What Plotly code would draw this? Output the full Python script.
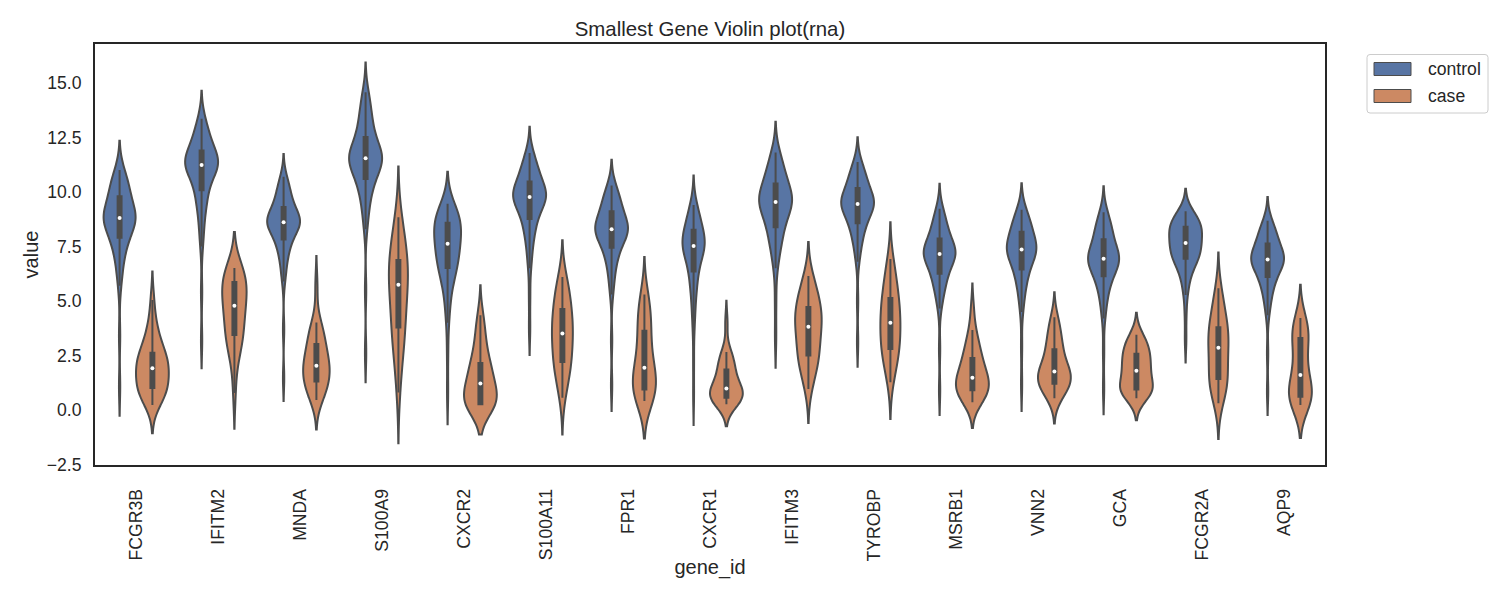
import numpy as np
import plotly.graph_objects as go

# ---------------- data ----------------
genes = ["FCGR3B", "IFITM2", "MNDA", "S100A9", "CXCR2", "S100A11", "FPR1", "CXCR1",
         "IFITM3", "TYROBP", "MSRB1", "VNN2", "GCA", "FCGR2A", "AQP9"]
groups = ["control", "case"]
y_tick_values = [-2.5, 0.0, 2.5, 5.0, 7.5, 10.0, 12.5, 15.0]
y_tick_labels = ["\u22122.5", "0.0", "2.5", "5.0", "7.5", "10.0", "12.5", "15.0"]

control_values = [
    [1.08, 3.40, 5.70, 6.14, 6.48, 6.79, 7.05, 7.27, 7.44, 7.60, 7.73, 7.81, 7.88, 7.92, 8.14, 8.32, 8.45, 8.56,
     8.62, 8.65, 8.68, 8.71, 8.73, 8.75, 8.77, 8.79, 8.83, 8.85, 8.87, 8.89, 8.91, 8.94, 8.97, 9.00,
     9.16, 9.31, 9.45, 9.60, 9.79, 9.83, 9.87, 9.95, 10.03, 10.11, 10.21, 10.31, 10.42, 10.53, 10.65, 10.77, 10.89, 11.01],
    [3.19, 5.40, 7.50, 8.01, 8.43, 8.79, 9.09, 9.35, 9.56, 9.74, 9.89, 9.99, 10.07, 10.11, 10.39, 10.62, 10.79, 10.93,
     11.07, 11.10, 11.12, 11.15, 11.18, 11.20, 11.21, 11.23, 11.27, 11.29, 11.30, 11.32, 11.35, 11.38, 11.40, 11.43,
     11.48, 11.58, 11.67, 11.77, 11.89, 11.93, 11.99, 12.08, 12.18, 12.28, 12.40, 12.52, 12.65, 12.78, 12.93, 13.08, 13.22, 13.37],
    [1.46, 3.70, 5.90, 6.28, 6.58, 6.85, 7.08, 7.27, 7.42, 7.55, 7.67, 7.74, 7.80, 7.84, 8.03, 8.19, 8.30, 8.40,
     8.47, 8.49, 8.52, 8.54, 8.56, 8.58, 8.59, 8.61, 8.63, 8.65, 8.66, 8.68, 8.70, 8.72, 8.75, 8.77,
     8.86, 8.97, 9.07, 9.17, 9.30, 9.34, 9.39, 9.48, 9.57, 9.67, 9.78, 9.89, 10.02, 10.14, 10.28, 10.42, 10.56, 10.70],
    [2.63, 5.50, 8.30, 8.76, 9.12, 9.44, 9.71, 9.94, 10.12, 10.28, 10.42, 10.51, 10.58, 10.62, 10.85, 11.03, 11.17, 11.29,
     11.36, 11.39, 11.42, 11.44, 11.47, 11.49, 11.51, 11.53, 11.57, 11.59, 11.61, 11.63, 11.66, 11.68, 11.71, 11.74,
     11.89, 12.04, 12.18, 12.33, 12.51, 12.55, 12.64, 12.77, 12.91, 13.06, 13.22, 13.39, 13.58, 13.76, 13.97, 14.18, 14.38, 14.59],
    [0.81, 2.60, 4.00, 4.50, 4.90, 5.25, 5.54, 5.79, 5.99, 6.17, 6.32, 6.42, 6.49, 6.53, 6.62, 6.71, 6.80, 6.88,
     6.97, 7.06, 7.15, 7.24, 7.33, 7.41, 7.50, 7.59, 7.67, 7.75, 7.82, 7.90, 7.97, 8.05, 8.12, 8.20,
     8.27, 8.35, 8.42, 8.50, 8.57, 8.61, 8.63, 8.69, 8.75, 8.81, 8.88, 8.95, 9.03, 9.11, 9.20, 9.29, 9.38, 9.47],
    [3.73, 5.20, 6.50, 6.95, 7.31, 7.63, 7.90, 8.12, 8.30, 8.46, 8.59, 8.68, 8.75, 8.79, 9.03, 9.23, 9.37, 9.49,
     9.60, 9.63, 9.65, 9.68, 9.70, 9.72, 9.74, 9.75, 9.79, 9.80, 9.82, 9.84, 9.86, 9.89, 9.91, 9.94,
     10.02, 10.13, 10.23, 10.34, 10.47, 10.51, 10.56, 10.64, 10.73, 10.82, 10.93, 11.03, 11.15, 11.27, 11.40, 11.53, 11.66, 11.79],
    [1.13, 3.20, 5.30, 5.72, 6.06, 6.36, 6.61, 6.83, 7.00, 7.14, 7.27, 7.36, 7.42, 7.46, 7.66, 7.83, 7.95, 8.05,
     8.12, 8.15, 8.17, 8.20, 8.22, 8.24, 8.26, 8.27, 8.31, 8.32, 8.34, 8.36, 8.38, 8.41, 8.43, 8.46,
     8.58, 8.70, 8.82, 8.95, 9.10, 9.14, 9.18, 9.25, 9.34, 9.42, 9.51, 9.61, 9.72, 9.82, 9.94, 10.06, 10.18, 10.30],
    [0.66, 2.20, 3.70, 4.23, 4.65, 5.02, 5.33, 5.59, 5.80, 5.99, 6.15, 6.25, 6.33, 6.37, 6.65, 6.88, 7.06, 7.20,
     7.33, 7.36, 7.39, 7.42, 7.44, 7.46, 7.48, 7.50, 7.54, 7.56, 7.58, 7.60, 7.62, 7.65, 7.68, 7.71,
     7.78, 7.89, 8.00, 8.11, 8.25, 8.29, 8.33, 8.40, 8.48, 8.56, 8.65, 8.74, 8.85, 8.95, 9.07, 9.18, 9.30, 9.41],
    [3.35, 5.00, 6.50, 6.87, 7.17, 7.44, 7.66, 7.85, 8.00, 8.13, 8.24, 8.31, 8.37, 8.41, 8.69, 8.91, 9.08, 9.22,
     9.34, 9.37, 9.40, 9.43, 9.46, 9.48, 9.50, 9.52, 9.56, 9.58, 9.60, 9.62, 9.65, 9.68, 9.71, 9.74,
     9.83, 9.96, 10.09, 10.21, 10.37, 10.41, 10.47, 10.55, 10.65, 10.75, 10.87, 10.98, 11.11, 11.24, 11.39, 11.53, 11.68, 11.82],
    [3.12, 5.00, 6.80, 7.15, 7.43, 7.68, 7.89, 8.06, 8.20, 8.32, 8.43, 8.50, 8.55, 8.59, 8.80, 8.97, 9.10, 9.21,
     9.29, 9.31, 9.34, 9.36, 9.39, 9.40, 9.42, 9.43, 9.47, 9.48, 9.50, 9.51, 9.54, 9.56, 9.59, 9.61,
     9.71, 9.82, 9.92, 10.03, 10.17, 10.21, 10.25, 10.32, 10.41, 10.49, 10.59, 10.68, 10.79, 10.90, 11.02, 11.14, 11.26, 11.38],
    [0.91, 2.80, 4.65, 4.97, 5.22, 5.44, 5.63, 5.79, 5.91, 6.02, 6.12, 6.18, 6.23, 6.27, 6.49, 6.67, 6.80, 6.91,
     7.00, 7.02, 7.05, 7.07, 7.10, 7.11, 7.13, 7.14, 7.18, 7.19, 7.21, 7.22, 7.25, 7.27, 7.30, 7.32,
     7.41, 7.51, 7.62, 7.72, 7.85, 7.89, 7.94, 8.03, 8.12, 8.22, 8.33, 8.44, 8.56, 8.69, 8.83, 8.96, 9.10, 9.24],
    [1.17, 2.90, 4.50, 4.89, 5.19, 5.47, 5.70, 5.89, 6.04, 6.18, 6.29, 6.37, 6.43, 6.47, 6.69, 6.87, 7.00, 7.11,
     7.19, 7.21, 7.24, 7.27, 7.29, 7.31, 7.33, 7.34, 7.38, 7.39, 7.41, 7.43, 7.45, 7.48, 7.51, 7.53,
     7.64, 7.77, 7.89, 8.01, 8.16, 8.20, 8.23, 8.29, 8.36, 8.44, 8.52, 8.60, 8.69, 8.78, 8.88, 8.99, 9.09, 9.19],
    [1.00, 2.70, 4.20, 4.58, 4.89, 5.16, 5.39, 5.58, 5.74, 5.87, 5.99, 6.06, 6.12, 6.16, 6.35, 6.51, 6.62, 6.72,
     6.77, 6.80, 6.82, 6.85, 6.87, 6.89, 6.91, 6.92, 6.96, 6.97, 6.99, 7.01, 7.03, 7.06, 7.08, 7.11,
     7.25, 7.39, 7.52, 7.65, 7.82, 7.86, 7.90, 7.98, 8.07, 8.15, 8.25, 8.35, 8.46, 8.57, 8.70, 8.82, 8.95, 9.07],
    [3.21, 4.40, 5.27, 5.60, 5.86, 6.10, 6.29, 6.46, 6.59, 6.71, 6.80, 6.87, 6.92, 6.96, 7.00, 7.06, 7.11, 7.17,
     7.23, 7.29, 7.34, 7.40, 7.46, 7.52, 7.57, 7.63, 7.69, 7.75, 7.81, 7.87, 7.93, 7.99, 8.06, 8.12,
     8.18, 8.24, 8.30, 8.36, 8.39, 8.43, 8.44, 8.49, 8.54, 8.59, 8.64, 8.70, 8.77, 8.83, 8.90, 8.98, 9.05, 9.12],
    [0.85, 2.60, 4.35, 4.70, 4.97, 5.22, 5.42, 5.60, 5.73, 5.86, 5.96, 6.03, 6.08, 6.12, 6.31, 6.47, 6.58, 6.68,
     6.75, 6.77, 6.79, 6.82, 6.84, 6.85, 6.87, 6.88, 6.92, 6.93, 6.95, 6.96, 6.98, 7.01, 7.03, 7.05,
     7.16, 7.27, 7.37, 7.48, 7.62, 7.66, 7.69, 7.76, 7.83, 7.91, 7.99, 8.08, 8.17, 8.27, 8.37, 8.48, 8.58, 8.69],
]

case_values = [
    [0.23, 0.45, 0.62, 0.75, 0.85, 0.95, 1.00, 1.06, 1.25, 1.45, 1.60, 1.75, 1.87, 1.95, 2.05, 2.15, 2.28, 2.42, 2.55, 2.62, 2.80, 3.05, 3.35, 3.70, 4.08, 5.05],
    [0.78, 2.10, 2.60, 2.95, 3.20, 3.35, 3.44, 3.55, 3.85, 4.15, 4.40, 4.62, 4.74, 4.82, 4.98, 5.15, 5.35, 5.55, 5.80, 5.87, 5.97, 6.08, 6.18, 6.30, 6.42, 6.52],
    [0.46, 0.62, 0.78, 0.92, 1.05, 1.18, 1.30, 1.42, 1.58, 1.72, 1.85, 1.95, 2.01, 2.05, 2.18, 2.32, 2.48, 2.66, 2.95, 3.03, 3.22, 3.42, 3.62, 3.82, 4.01, 5.70],
    [0.80, 1.80, 2.40, 2.90, 3.25, 3.55, 3.78, 3.95, 4.30, 4.70, 5.05, 5.40, 5.70, 5.80, 5.95, 6.10, 6.30, 6.55, 6.82, 6.88, 7.10, 7.40, 7.70, 8.05, 8.40, 8.85],
    [0.25, 0.25, 0.26, 0.26, 0.26, 0.26, 0.26, 0.30, 0.48, 0.66, 0.84, 1.02, 1.16, 1.26, 1.40, 1.55, 1.72, 1.90, 2.10, 2.15, 2.45, 2.75, 3.10, 3.50, 3.92, 4.35],
    [0.56, 1.05, 1.40, 1.70, 1.95, 2.12, 2.20, 2.36, 2.60, 2.85, 3.10, 3.35, 3.48, 3.54, 3.70, 3.88, 4.05, 4.25, 4.55, 4.63, 4.85, 5.10, 5.35, 5.60, 5.85, 6.10],
    [0.41, 0.52, 0.62, 0.72, 0.80, 0.88, 0.94, 1.02, 1.22, 1.42, 1.62, 1.80, 1.90, 1.98, 2.22, 2.50, 2.80, 3.15, 3.58, 3.63, 3.90, 4.20, 4.50, 4.80, 5.05, 5.30],
    [0.26, 0.32, 0.38, 0.44, 0.49, 0.53, 0.56, 0.60, 0.68, 0.76, 0.84, 0.91, 0.96, 1.00, 1.10, 1.24, 1.40, 1.58, 1.80, 1.86, 2.02, 2.20, 2.38, 2.52, 2.66, 4.00],
    [0.96, 1.40, 1.75, 2.05, 2.30, 2.45, 2.50, 2.58, 2.85, 3.15, 3.40, 3.62, 3.78, 3.86, 4.00, 4.15, 4.30, 4.45, 4.66, 4.72, 4.90, 5.10, 5.35, 5.60, 5.85, 6.15],
    [1.27, 1.70, 2.05, 2.35, 2.55, 2.72, 2.80, 2.92, 3.15, 3.40, 3.62, 3.82, 3.96, 4.04, 4.20, 4.40, 4.60, 4.82, 5.08, 5.14, 5.35, 5.60, 5.90, 6.20, 6.55, 6.93],
    [0.35, 0.45, 0.55, 0.64, 0.73, 0.82, 0.90, 0.98, 1.08, 1.18, 1.28, 1.38, 1.45, 1.51, 1.62, 1.76, 1.92, 2.10, 2.33, 2.38, 2.58, 2.80, 3.05, 3.35, 3.67, 4.62],
    [0.53, 0.70, 0.85, 0.98, 1.08, 1.15, 1.20, 1.28, 1.40, 1.50, 1.60, 1.68, 1.74, 1.78, 1.88, 2.00, 2.15, 2.35, 2.70, 2.78, 2.95, 3.15, 3.40, 3.70, 3.98, 4.25],
    [0.53, 0.65, 0.75, 0.82, 0.88, 0.92, 0.94, 0.98, 1.12, 1.28, 1.45, 1.62, 1.76, 1.84, 1.96, 2.08, 2.20, 2.35, 2.52, 2.58, 2.70, 2.85, 3.00, 3.15, 3.30, 3.45],
    [0.31, 0.60, 0.85, 1.05, 1.22, 1.36, 1.42, 1.50, 1.75, 2.00, 2.30, 2.60, 2.80, 2.90, 3.05, 3.20, 3.35, 3.55, 3.75, 3.80, 4.00, 4.25, 4.55, 4.85, 5.20, 5.58],
    [0.23, 0.30, 0.38, 0.45, 0.51, 0.56, 0.60, 0.65, 0.80, 0.98, 1.15, 1.35, 1.55, 1.65, 1.95, 2.30, 2.58, 2.80, 3.22, 3.30, 3.45, 3.60, 3.75, 3.90, 4.05, 4.22],
]

# ---------------- style ----------------
FILL = {"control": "#5875a4", "case": "#cc8963"}
GRAY = "#4c4c4c"
TEXT = "#262626"
DODGE = {"control": -0.2, "case": 0.2}
FONT = "Liberation Sans, Arial, Helvetica, sans-serif"

W, H = 1500, 600
ML, MR, MT, MB = 95, 175, 44, 135
PW, PH = W - ML - MR, H - MT - MB


def px_x(px):
    return (px - ML) / PW


def px_y(py):
    return (H - MB - py) / PH


def silverman(arr):
    q1, q3 = np.percentile(arr, [25, 75])
    return 1.059 * min(arr.std(ddof=1), (q3 - q1) / 1.349) * len(arr) ** (-0.2)


def rounded_rect_path(x0, y0, x1, y1, r):
    """Rounded rectangle in paper coords; corners given in pixels (x0,y0 top-left)."""
    X0, X1 = px_x(x0), px_x(x1)
    Y0, Y1 = px_y(y0), px_y(y1)
    rx, ry = r / PW, r / PH
    return (f"M{X0 + rx},{Y0} L{X1 - rx},{Y0} Q{X1},{Y0} {X1},{Y0 - ry} "
            f"L{X1},{Y1 + ry} Q{X1},{Y1} {X1 - rx},{Y1} "
            f"L{X0 + rx},{Y1} Q{X0},{Y1} {X0},{Y1 + ry} "
            f"L{X0},{Y0 - ry} Q{X0},{Y0} {X0 + rx},{Y0} Z")


fig = go.Figure()
med_x, med_y = [], []
for group in groups:
    series = control_values if group == "control" else case_values
    for i, vals in enumerate(series):
        arr = np.asarray(vals, dtype=float)
        pos = i + DODGE[group]
        fig.add_trace(go.Violin(
            x=[pos] * len(arr), y=arr, name=group, showlegend=False,
            bandwidth=silverman(arr), spanmode="soft",
            scalegroup=genes[i], scalemode="width",
            fillcolor=FILL[group], opacity=1, line=dict(color=GRAY, width=2),
            points=False,
            box=dict(visible=True, width=0.12, fillcolor=GRAY,
                     line=dict(color=GRAY, width=2)),
            meanline=dict(visible=False), hoverinfo="skip",
        ))
        med_x.append(pos)
        med_y.append(float(np.median(arr)))

fig.add_trace(go.Scatter(
    x=med_x, y=med_y, mode="markers", showlegend=False, hoverinfo="skip",
    marker=dict(color="white", size=4, line=dict(width=0)),
))

fig.update_layout(
    width=W, height=H,
    margin=dict(l=ML, r=MR, t=MT, b=MB, autoexpand=False),
    plot_bgcolor="white", paper_bgcolor="white",
    font=dict(family=FONT, color=TEXT, size=17.6),
    violinmode="overlay", violingap=0, violingroupgap=0,
    showlegend=False,
    title=dict(text="Smallest Gene Violin plot(rna)", x=0.5, xref="paper", xanchor="center",
               y=1, yref="paper", yanchor="bottom", pad=dict(b=8),
               font=dict(size=20.4, color=TEXT, family=FONT)),
)

fig.update_xaxes(
    range=[-0.5, len(genes) - 0.5], tickmode="array", tickvals=list(range(len(genes))),
    ticktext=genes, tickangle=-90, showgrid=False, zeroline=False,
    showline=True, mirror=True, linecolor=TEXT, linewidth=2,
    ticks="outside", ticklen=15, tickcolor="rgba(0,0,0,0)",
    tickfont=dict(size=17.6, color=TEXT, family=FONT),
    title=dict(text="gene_id", font=dict(size=20, color=TEXT, family=FONT), standoff=0),
    automargin=False,
)
fig.update_yaxes(
    range=[-2.53, 16.80], tickmode="array", tickvals=y_tick_values, ticktext=y_tick_labels,
    showgrid=False, zeroline=False,
    showline=True, mirror=True, linecolor=TEXT, linewidth=2,
    ticks="outside", ticklen=8, tickcolor="rgba(0,0,0,0)",
    tickfont=dict(size=17.6, color=TEXT, family=FONT),
    title=dict(text="value", font=dict(size=20, color=TEXT, family=FONT), standoff=3),
    automargin=False,
)

# ---------------- legend, drawn like the matplotlib one ----------------
fig.add_shape(type="path", xref="paper", yref="paper",
              path=rounded_rect_path(1367, 54.5, 1488, 113, 3),
              line=dict(color="#cccccc", width=1), fillcolor="white", layer="above")
legend_rows = {"control": 69, "case": 96}
for group in groups:
    cy = legend_rows[group]
    fig.add_shape(type="rect", xref="paper", yref="paper",
                  x0=px_x(1374), x1=px_x(1411), y0=px_y(cy + 6.5), y1=px_y(cy - 6.5),
                  line=dict(color=GRAY, width=1), fillcolor=FILL[group], layer="above")
    fig.add_annotation(text=group, xref="paper", yref="paper", x=px_x(1426), y=px_y(cy),
                       xanchor="left", yanchor="middle", showarrow=False,
                       font=dict(size=17.6, color=TEXT, family=FONT))

fig.write_html("out.html", config={"displayModeBar": False},
               post_script="document.body.style.margin='0px';")
